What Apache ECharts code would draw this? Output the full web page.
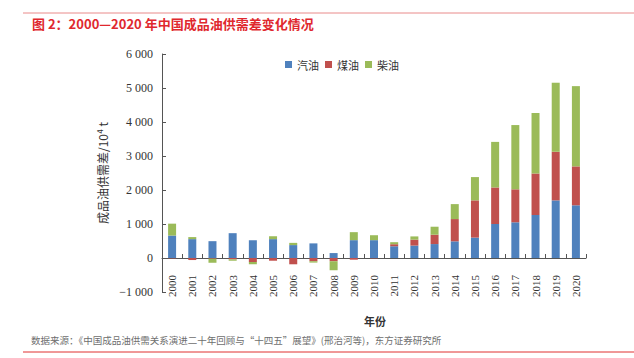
<!DOCTYPE html>
<html><head><meta charset="utf-8">
<script src="https://cdn.jsdelivr.net/npm/echarts@6/dist/echarts.min.js"></script>
<style>html,body{margin:0;padding:0;background:#fff}#c{width:634px;height:358px}</style>
</head><body><div id="c"></div>
<script>
const years = ['2000','2001','2002','2003','2004','2005','2006','2007','2008','2009','2010','2011','2012','2013','2014','2015','2016','2017','2018','2019','2020'];
const gasoline = [660, 555, 495, 730, 525, 555, 380, 430, 145, 525, 525, 345, 365, 410, 490, 600, 1000, 1050, 1265, 1695, 1550];
const kerosene = [-10, -60, -20, -40, -120, -80, -185, -95, -95, -50, -10, 60, 175, 275, 655, 1095, 1075, 970, 1220, 1430, 1145];
const diesel = [350, 60, -120, -40, -65, 85, 65, -40, -265, 235, 145, 60, 95, 235, 440, 685, 1340, 1890, 1780, 2030, 2360];
const seriesNames = ['汽油', '煤油', '柴油'];
const yTicks = {min: -1000, max: 6000, interval: 1000};

const chart = echarts.init(document.getElementById('c'), null, {renderer: 'svg'});
const serif = '"Liberation Serif", "Times New Roman", serif';
const cjk = '"Noto Sans CJK SC", sans-serif';
function fmt(v){
  const a = Math.abs(v);
  const s = a >= 1000 ? Math.floor(a/1000) + ' ' + String(a%1000).padStart(3,'0') : String(a);
  return (v < 0 ? '\u2212' : '') + s;
}
const gridTop = 54, gridBottom = 66, H = 358;
const plotH = H - gridTop - gridBottom;
const zeroOffset = -plotH * (0 - yTicks.min) / (yTicks.max - yTicks.min);
const colors = ['#4f81bd', '#c0504d', '#9bbb59'];
chart.setOption({
  animation: false,
  color: colors,
  grid: {left: 162, right: 48, top: gridTop, bottom: gridBottom},
  legend: {
    left: 280, top: 54, itemWidth: 7, itemHeight: 7, itemGap: 6,
    icon: 'rect',
    textStyle: {fontFamily: cjk, fontSize: 11, color: '#333'},
    data: seriesNames
  },
  xAxis: {
    type: 'category', data: years,
    offset: zeroOffset,
    axisLine: {onZero: false, lineStyle: {color: '#555', width: 1}},
    axisTick: {show: true, inside: true, length: 4, lineStyle: {color: '#555'}},
    axisLabel: {rotate: 90, margin: 17, fontFamily: serif, fontSize: 11, color: '#333'}
  },
  yAxis: {
    type: 'value', min: yTicks.min, max: yTicks.max, interval: yTicks.interval,
    name: '成品油供需差/10⁴ t', nameLocation: 'middle', nameGap: 52,
    nameTextStyle: {fontFamily: cjk, fontSize: 12, color: '#333'},
    axisLine: {show: true, lineStyle: {color: '#555'}},
    axisTick: {show: true, inside: true, length: 4, lineStyle: {color: '#555'}},
    splitLine: {show: false},
    axisLabel: {margin: 9, fontFamily: serif, fontSize: 12, color: '#333', formatter: fmt}
  },
  series: [
    {name: seriesNames[0], type: 'bar', stack: 'a', barWidth: 8, data: gasoline},
    {name: seriesNames[1], type: 'bar', stack: 'a', barWidth: 8, data: kerosene},
    {name: seriesNames[2], type: 'bar', stack: 'a', barWidth: 8, data: diesel}
  ],
  graphic: [
    {type: 'line', shape: {x1: 23, y1: 13, x2: 634, y2: 13}, style: {stroke: '#e98a8a', lineWidth: 1}},
    {type: 'text', left: 32, top: 17, style: {text: '图 2：2000—2020 年中国成品油供需差变化情况', fill: '#e0282e', font: 'bold 13px "Noto Sans CJK SC", sans-serif'}},
    {type: 'text', left: 364, top: 315, style: {text: '年份', fill: '#333', font: 'bold 11px "Noto Sans CJK SC", sans-serif'}},
    {type: 'text', left: 31, top: 335, style: {text: '数据来源：《中国成品油供需关系演进二十年回顾与“十四五”展望》(邢治河等)，东方证券研究所', fill: '#6e6e6e', font: '9.5px "Noto Sans CJK SC", sans-serif'}},
    {type: 'line', shape: {x1: 23, y1: 352, x2: 634, y2: 352}, style: {stroke: '#e03030', lineWidth: 1}}
  ]
});
</script></body></html>
